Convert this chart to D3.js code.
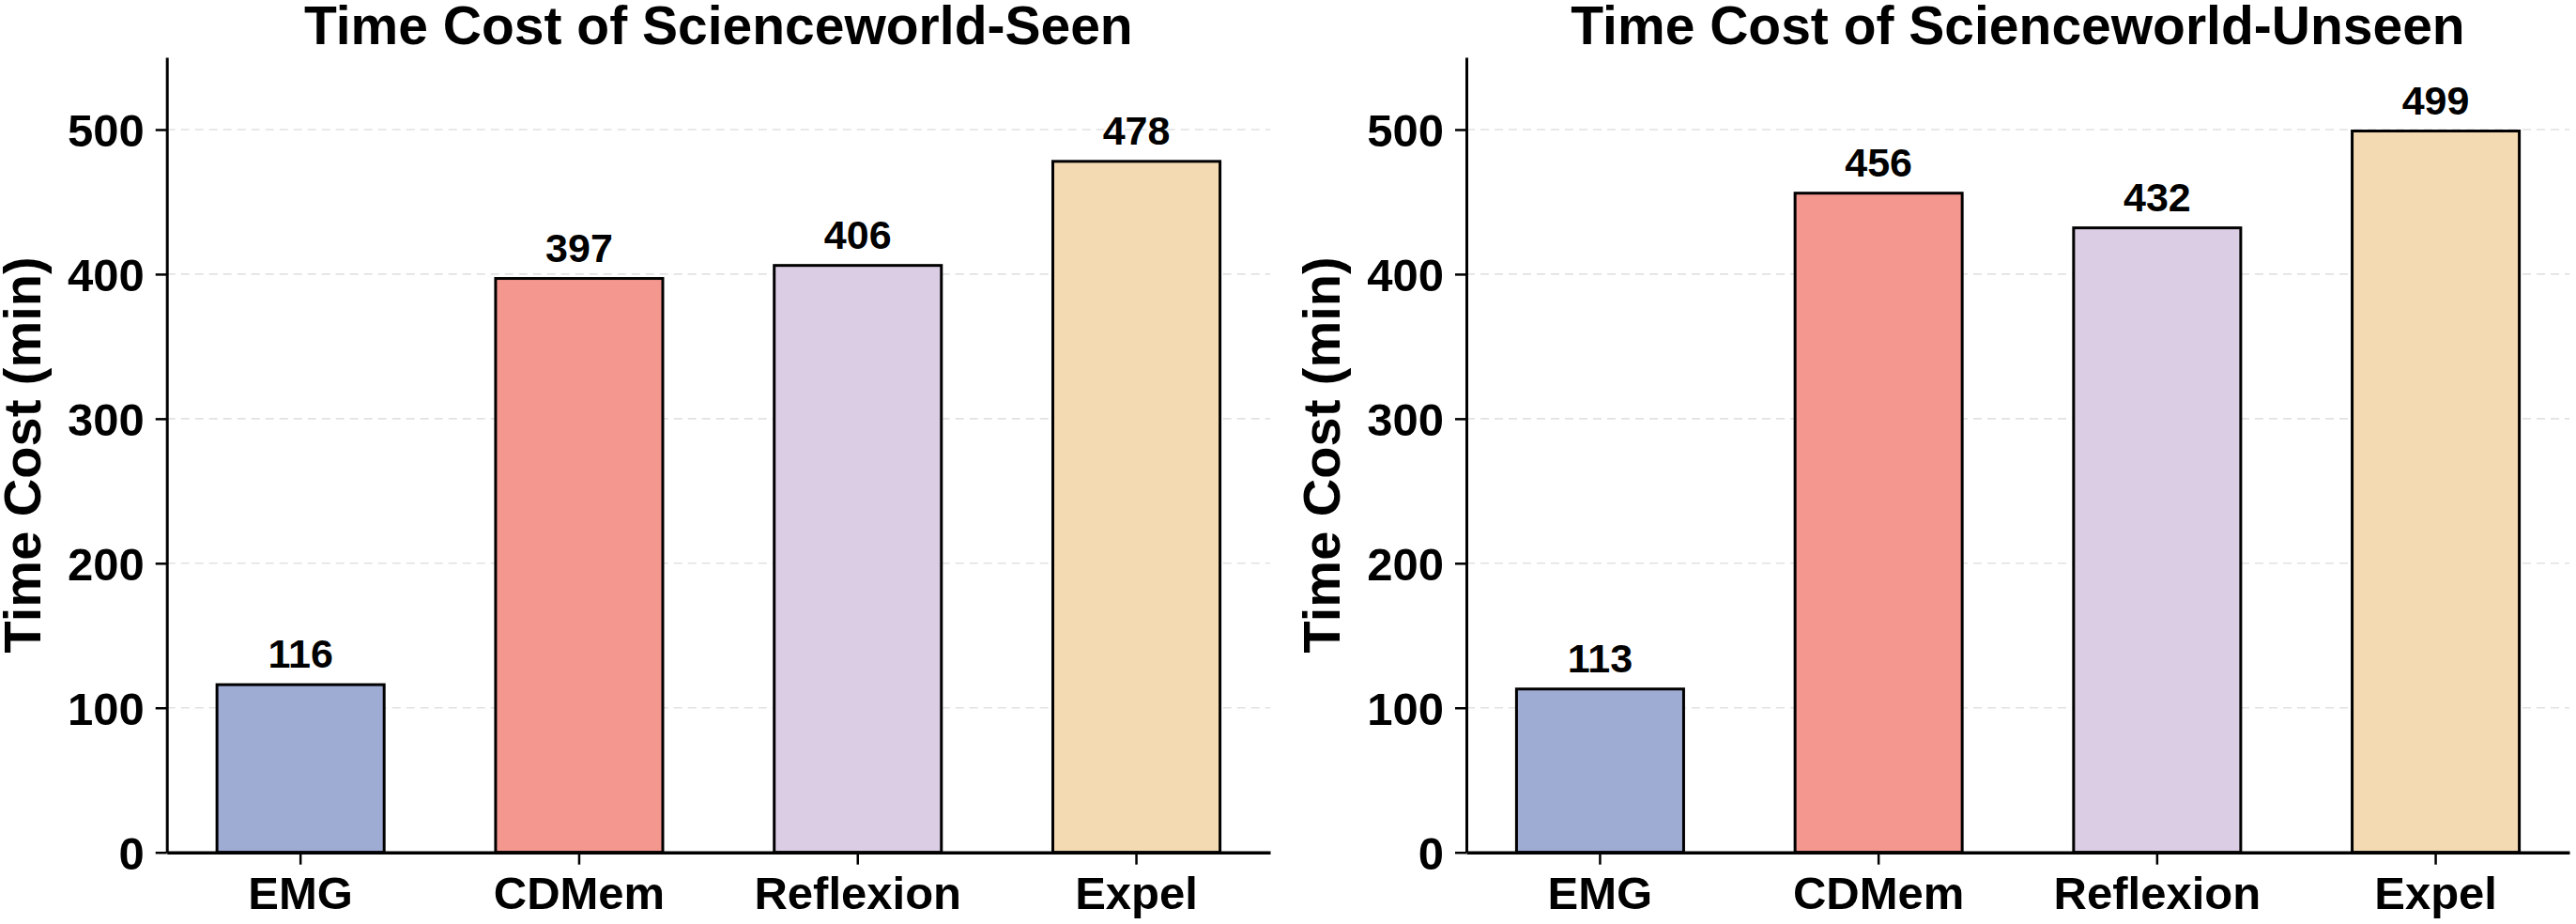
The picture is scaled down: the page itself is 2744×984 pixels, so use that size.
<!DOCTYPE html>
<meta charset="utf-8">
<html>
<head>
<title>Time Cost of Scienceworld</title>
<style>
  body { margin: 0; background: #fff; }
  svg text { font-family: "Liberation Sans", Arial, sans-serif; font-weight: bold; fill: #000; }
  .grid line { stroke: #e2e2e2; stroke-width: 1.6; stroke-dasharray: 9 6; }
  .axis path, .axis line { stroke: #000; }
</style>
</head>
<body>
<svg width="2744" height="984"></svg>

<script src="https://d3js.org/d3.v7.min.js"></script>
<script>

var methods = ["EMG", "CDMem", "Reflexion", "Expel"];
var seenMinutes = [116, 397, 406, 478];
var unseenMinutes = [113, 456, 432, 499];
var yTicks = [0, 100, 200, 300, 400, 500];
var barColors = ["#9eabd3", "#f4978f", "#dbcde4", "#f4dab2"];

var titles = ["Time Cost of Scienceworld-Seen", "Time Cost of Scienceworld-Unseen"];

var svg = d3.select("svg");

var top_ = 61, bottom = 907.7;
var panels = [
  {left: 177.7, right: 1353, values: seenMinutes, title: titles[0]},
  {left: 1562, right: 2737, values: unseenMinutes, title: titles[1]}
];

var colors = d3.scaleOrdinal().domain(methods).range(barColors);

panels.forEach(function(p) {
  var x = d3.scaleBand()
      .domain(methods)
      .range([p.left, p.right])
      .paddingInner(0.4)
      .paddingOuter(0.18);
  var y = d3.scaleLinear().domain([0, 550]).range([bottom, top_]);

  var data = methods.map(function(m, i) { return {method: m, value: p.values[i]}; });
  var g = svg.append("g");

  // dashed grid
  g.append("g")
      .attr("class", "grid")
      .selectAll("line")
      .data(yTicks.filter(function(t) { return t > 0; }))
      .enter().append("line")
      .attr("x1", p.left)
      .attr("x2", p.right)
      .attr("y1", function(d) { return y(d); })
      .attr("y2", function(d) { return y(d); });

  // bars
  g.selectAll(".bar")
      .data(data)
      .enter().append("rect")
      .attr("class", "bar")
      .attr("x", function(d) { return x(d.method); })
      .attr("y", function(d) { return y(d.value); })
      .attr("width", x.bandwidth())
      .attr("height", function(d) { return y(0) - y(d.value); })
      .attr("fill", function(d) { return colors(d.method); })
      .attr("stroke", "#000")
      .attr("stroke-width", 3);

  // value labels
  g.selectAll(".bartext")
      .data(data)
      .enter().append("text")
      .attr("class", "bartext")
      .attr("x", function(d) { return x(d.method) + x.bandwidth() / 2; })
      .attr("y", function(d) { return y(d.value) - 18; })
      .attr("text-anchor", "middle")
      .style("font-size", "43px")
      .text(function(d) { return d.value; });

  // axes
  var yAxis = g.append("g")
      .attr("class", "axis")
      .attr("transform", "translate(" + p.left + ",0)")
      .call(d3.axisLeft(y).tickValues(yTicks).tickSize(12).tickPadding(12).tickSizeOuter(0));
  yAxis.select(".domain").attr("stroke-width", 3);
  yAxis.selectAll(".tick line").attr("stroke-width", 2.5);
  yAxis.selectAll("text").style("font-size", "49px").attr("dy", "0.36em");

  var xAxis = g.append("g")
      .attr("class", "axis")
      .attr("transform", "translate(0," + bottom + ")")
      .call(d3.axisBottom(x).tickSize(13).tickPadding(12).tickSizeOuter(0));
  xAxis.select(".domain").attr("stroke-width", 3.5);
  xAxis.selectAll(".tick line").attr("stroke-width", 2.5);
  xAxis.selectAll("text").style("font-size", "49px").attr("dy", "0.72em");

  // title
  g.append("text")
      .attr("x", (p.left + p.right) / 2)
      .attr("y", 47)
      .attr("text-anchor", "middle")
      .style("font-size", "57px")
      .text(p.title);

  // y label
  g.append("text")
      .attr("transform", "translate(" + (p.left - 135) + "," + ((top_ + bottom) / 2) + ") rotate(-90)")
      .attr("text-anchor", "middle")
      .style("font-size", "56px")
      .text("Time Cost (min)");
});

</script>
</body>
</html>
